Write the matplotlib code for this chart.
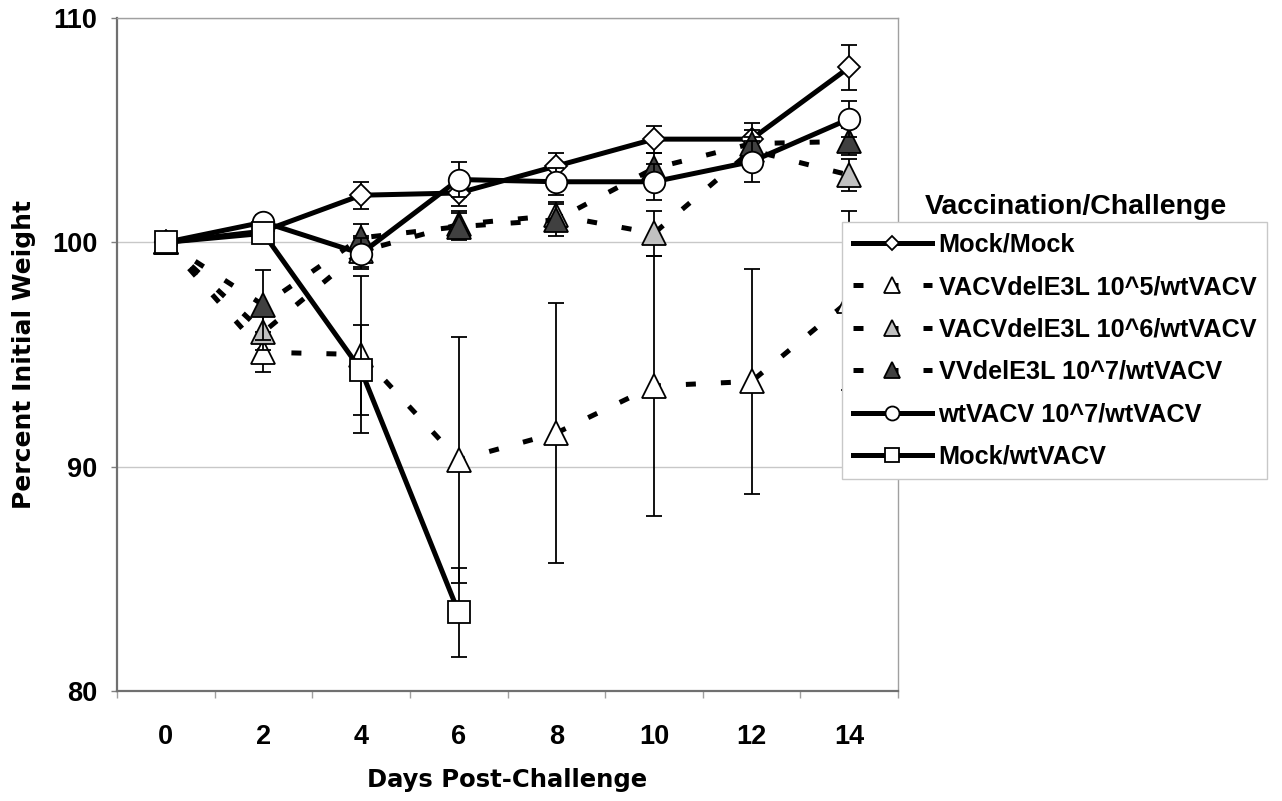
import numpy as np
import matplotlib
matplotlib.use("Agg")
import matplotlib.pyplot as plt

plt.rcParams['font.family'] = ['Liberation Sans', 'DejaVu Sans']
plt.rcParams['font.weight'] = 'bold'

days = np.array([0, 2, 4, 6, 8, 10, 12, 14])

# group means (% of initial weight) and error bar half-widths
mock_mock = [100.0, 100.5, 102.1, 102.2, 103.4, 104.6, 104.6, 107.8]
mock_mock_err = [0.0, 0.4, 0.6, 0.6, 0.6, 0.6, 0.7, 1.0]

dele3l_5 = [100.0, 95.1, 95.0, 90.3, 91.5, 93.6, 93.8, 97.4]
dele3l_5_err = [0.0, 0.9, 3.5, 5.5, 5.8, 5.8, 5.0, 4.0]

dele3l_6 = [100.0, 96.0, 99.6, 100.8, 101.2, 100.4, 104.1, 103.0]
dele3l_6_err = [0.0, 0.8, 0.7, 0.6, 0.6, 1.0, 0.6, 0.7]

dele3l_7 = [100.0, 97.2, 100.2, 100.7, 101.0, 103.3, 104.4, 104.5]
dele3l_7_err = [0.0, 1.55, 0.6, 0.6, 0.7, 0.7, 0.6, 0.6]

wt_vacv = [100.0, 100.9, 99.5, 102.8, 102.7, 102.7, 103.6, 105.5]
wt_vacv_err = [0.0, 0.3, 0.7, 0.8, 0.6, 0.8, 0.9, 0.8]

mock_wt = [100.0, 100.4, 94.3, 83.5]
mock_wt_err = [0.0, 0.3, 2.0, 2.0]

labels = ['Mock/Mock', 'VACVdelE3L 10^5/wtVACV', 'VACVdelE3L 10^6/wtVACV',
          'VVdelE3L 10^7/wtVACV', 'wtVACV 10^7/wtVACV', 'Mock/wtVACV']

LW = 3.6
DASH = (0, (2, 5))
series = [
    (days, mock_mock, mock_mock_err, '-', 'D', 'white', 11),
    (days, dele3l_5, dele3l_5_err, DASH, '^', 'white', 17),
    (days, dele3l_6, dele3l_6_err, DASH, '^', '#c0c0c0', 17),
    (days, dele3l_7, dele3l_7_err, DASH, '^', '#404040', 17),
    (days, wt_vacv, wt_vacv_err, '-', 'o', 'white', 15.5),
    (days[:len(mock_wt)], mock_wt, mock_wt_err, '-', 's', 'white', 16),
]

fig = plt.figure(figsize=(12.82, 8.01), dpi=100)
ax = fig.add_axes([117 / 1282, 1 - 691 / 801, (898 - 117) / 1282, (691 - 18) / 801])

handles = []
for i, (x, y, err, ls, mk, fc, ms) in enumerate(series):
    z = 2 + i * 0.3
    ax.errorbar(x, y, yerr=err, fmt='none', ecolor='black', elinewidth=1.3,
                capsize=5.8, capthick=1.3, zorder=z)
    line, = ax.plot(x, y, linestyle=ls, color='black', linewidth=LW,
                    marker=mk, markersize=ms, markerfacecolor=fc,
                    markeredgecolor='black', markeredgewidth=1.3,
                    label=labels[i], zorder=z + 0.1)
    handles.append(line)

ax.set_xlim(-1, 15)
ax.set_ylim(80, 110)

ax.set_xticks(days)
ax.set_xticklabels([str(d) for d in days])
ax.set_xticks(np.arange(-1, 16, 2), minor=True)
ax.tick_params(axis='x', which='major', length=0, pad=24, labelsize=19.5)
ax.tick_params(axis='x', which='minor', length=5, width=1, color='#a0a0a0',
               direction='out')
ax.set_yticks([80, 90, 100, 110])
ax.tick_params(axis='y', length=4, width=1, color='#808080', pad=10,
               labelsize=19.5)

ax.grid(axis='y', color='#c8c8c8', linewidth=1, zorder=0)
ax.set_axisbelow(True)
for side in ['top', 'right']:
    ax.spines[side].set_color('#a0a0a0')
    ax.spines[side].set_linewidth(1)
for side in ['left', 'bottom']:
    ax.spines[side].set_color('#707070')
    ax.spines[side].set_linewidth(1.6)

ax.set_xlabel('Days Post-Challenge', fontsize=17.5, fontweight='bold',
              family='DejaVu Sans')
ax.xaxis.set_label_coords(0.5, -0.115)
ax.xaxis.label.set_verticalalignment('top')
ax.set_ylabel('Percent Initial Weight', fontsize=18, fontweight='bold',
              family='DejaVu Sans')
ax.yaxis.set_label_coords(-0.104, 0.5)

leg = ax.legend(handles=handles, loc='upper left',
                bbox_to_anchor=(842 / 1282, 1 - 222 / 801),
                bbox_transform=fig.transFigure, borderaxespad=0,
                fontsize=18.2, markerscale=0.65, handlelength=3.15,
                handletextpad=0.25, labelspacing=0.73, borderpad=0.42,
                fancybox=False, framealpha=1, edgecolor='#c8c8c8')
leg.get_frame().set_linewidth(1)

fig.text(925 / 1282, 1 - 207 / 801, 'Vaccination/Challenge', fontsize=20.5,
         fontweight='bold', ha='left', va='center')

fig.savefig('out.png', dpi=100)
